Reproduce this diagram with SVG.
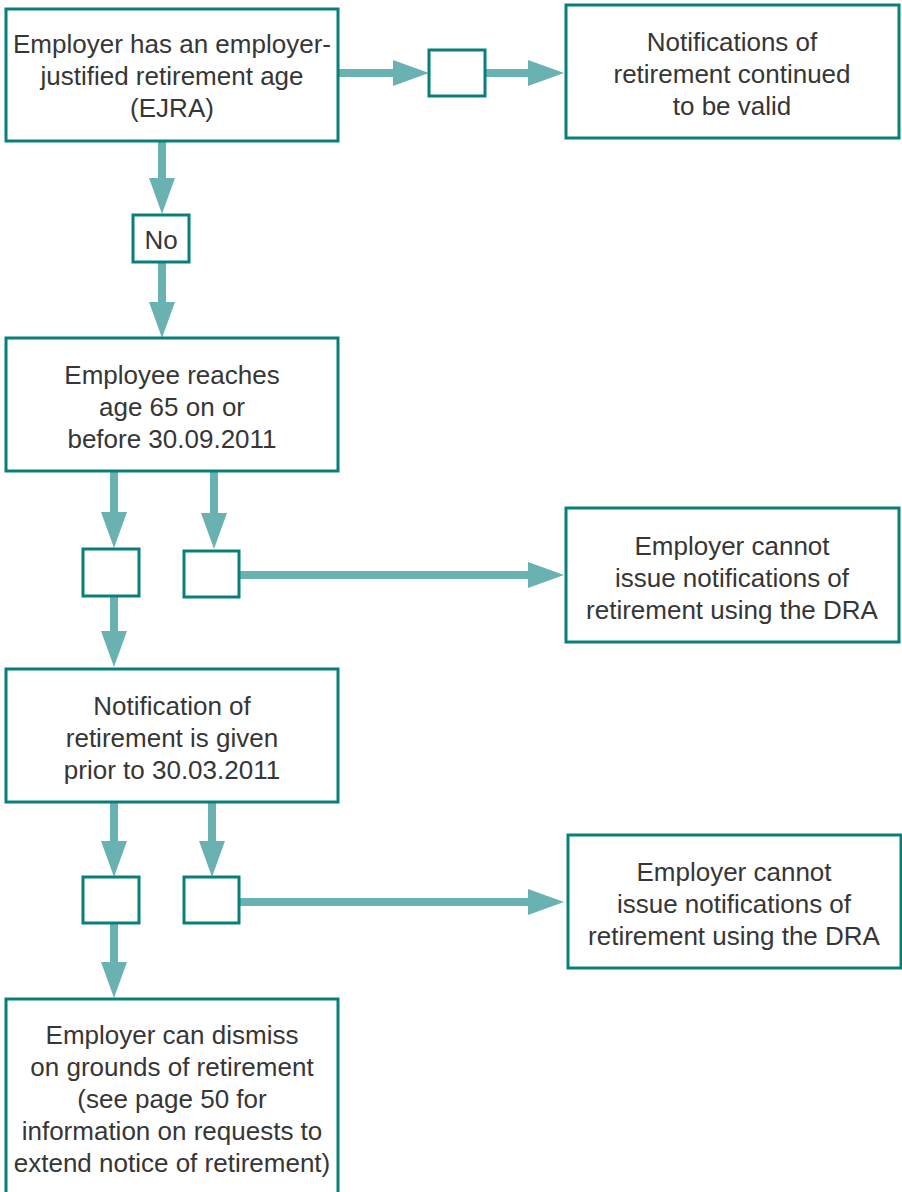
<svg xmlns="http://www.w3.org/2000/svg" width="902" height="1192" viewBox="0 0 902 1192">
<style>
.box{fill:#fff;stroke:#07807a;stroke-width:3}
.t{font-family:"Liberation Sans",Arial,sans-serif;font-size:26px;fill:#363636;text-anchor:middle}
.c{stroke:#6ab2b1;stroke-width:8;fill:none}
</style>
<defs>
<marker id="ah" markerUnits="userSpaceOnUse" markerWidth="36" markerHeight="26" refX="0" refY="13" orient="auto" viewBox="0 0 36 26">
<path d="M0,0 L36,13 L0,26 Z" fill="#6ab2b1"/>
</marker>
</defs>
<rect width="902" height="1192" fill="#fff"/>
<g id="connectors">
<path class="c" d="M339,73 H393" marker-end="url(#ah)"/>
<path class="c" d="M485,73 H528" marker-end="url(#ah)"/>
<path class="c" d="M162,142 V178" marker-end="url(#ah)"/>
<path class="c" d="M162,262 V302" marker-end="url(#ah)"/>
<path class="c" d="M114,471 V512" marker-end="url(#ah)"/>
<path class="c" d="M214,471 V513" marker-end="url(#ah)"/>
<path class="c" d="M239,575 H528" marker-end="url(#ah)"/>
<path class="c" d="M114,596 V631" marker-end="url(#ah)"/>
<path class="c" d="M114,803 V841" marker-end="url(#ah)"/>
<path class="c" d="M212,803 V841" marker-end="url(#ah)"/>
<path class="c" d="M239,902 H528" marker-end="url(#ah)"/>
<path class="c" d="M114,923 V962" marker-end="url(#ah)"/>
</g>
<g id="n1">
<rect class="box" x="6" y="9" width="332" height="132"/>
<text class="t" x="172" y="53">Employer has an employer-</text>
<text class="t" x="172" y="85">justified retirement age</text>
<text class="t" x="172" y="117">(EJRA)</text>
</g>
<g id="n2">
<rect class="box" x="429" y="50" width="56" height="46"/>
</g>
<g id="n3">
<rect class="box" x="566" y="5" width="333" height="133"/>
<text class="t" x="732" y="51">Notifications of</text>
<text class="t" x="732" y="83">retirement continued</text>
<text class="t" x="732" y="115">to be valid</text>
</g>
<g id="n4">
<rect class="box" x="133" y="215" width="56" height="47"/>
<text class="t" x="161" y="249">No</text>
</g>
<g id="n5">
<rect class="box" x="6" y="338" width="332" height="133"/>
<text class="t" x="172" y="384">Employee reaches</text>
<text class="t" x="172" y="416">age 65 on or</text>
<text class="t" x="172" y="448">before 30.09.2011</text>
</g>
<g id="n6">
<rect class="box" x="83" y="549" width="56" height="47"/>
</g>
<g id="n7">
<rect class="box" x="184" y="551" width="55" height="46"/>
</g>
<g id="n8">
<rect class="box" x="566" y="508" width="333" height="134"/>
<text class="t" x="732" y="555">Employer cannot</text>
<text class="t" x="732" y="587">issue notifications of</text>
<text class="t" x="732" y="619">retirement using the DRA</text>
</g>
<g id="n9">
<rect class="box" x="6" y="669" width="332" height="133"/>
<text class="t" x="172" y="715">Notification of</text>
<text class="t" x="172" y="747">retirement is given</text>
<text class="t" x="172" y="779">prior to 30.03.2011</text>
</g>
<g id="n10">
<rect class="box" x="83" y="877" width="56" height="46"/>
</g>
<g id="n11">
<rect class="box" x="184" y="877" width="55" height="46"/>
</g>
<g id="n12">
<rect class="box" x="568" y="835" width="333" height="133"/>
<text class="t" x="734" y="881">Employer cannot</text>
<text class="t" x="734" y="913">issue notifications of</text>
<text class="t" x="734" y="945">retirement using the DRA</text>
</g>
<g id="n13">
<rect class="box" x="6" y="999" width="332" height="200"/>
<text class="t" x="172" y="1044">Employer can dismiss</text>
<text class="t" x="172" y="1076">on grounds of retirement</text>
<text class="t" x="172" y="1108">(see page 50 for</text>
<text class="t" x="172" y="1140">information on requests to</text>
<text class="t" x="172" y="1172">extend notice of retirement)</text>
</g>
</svg>
